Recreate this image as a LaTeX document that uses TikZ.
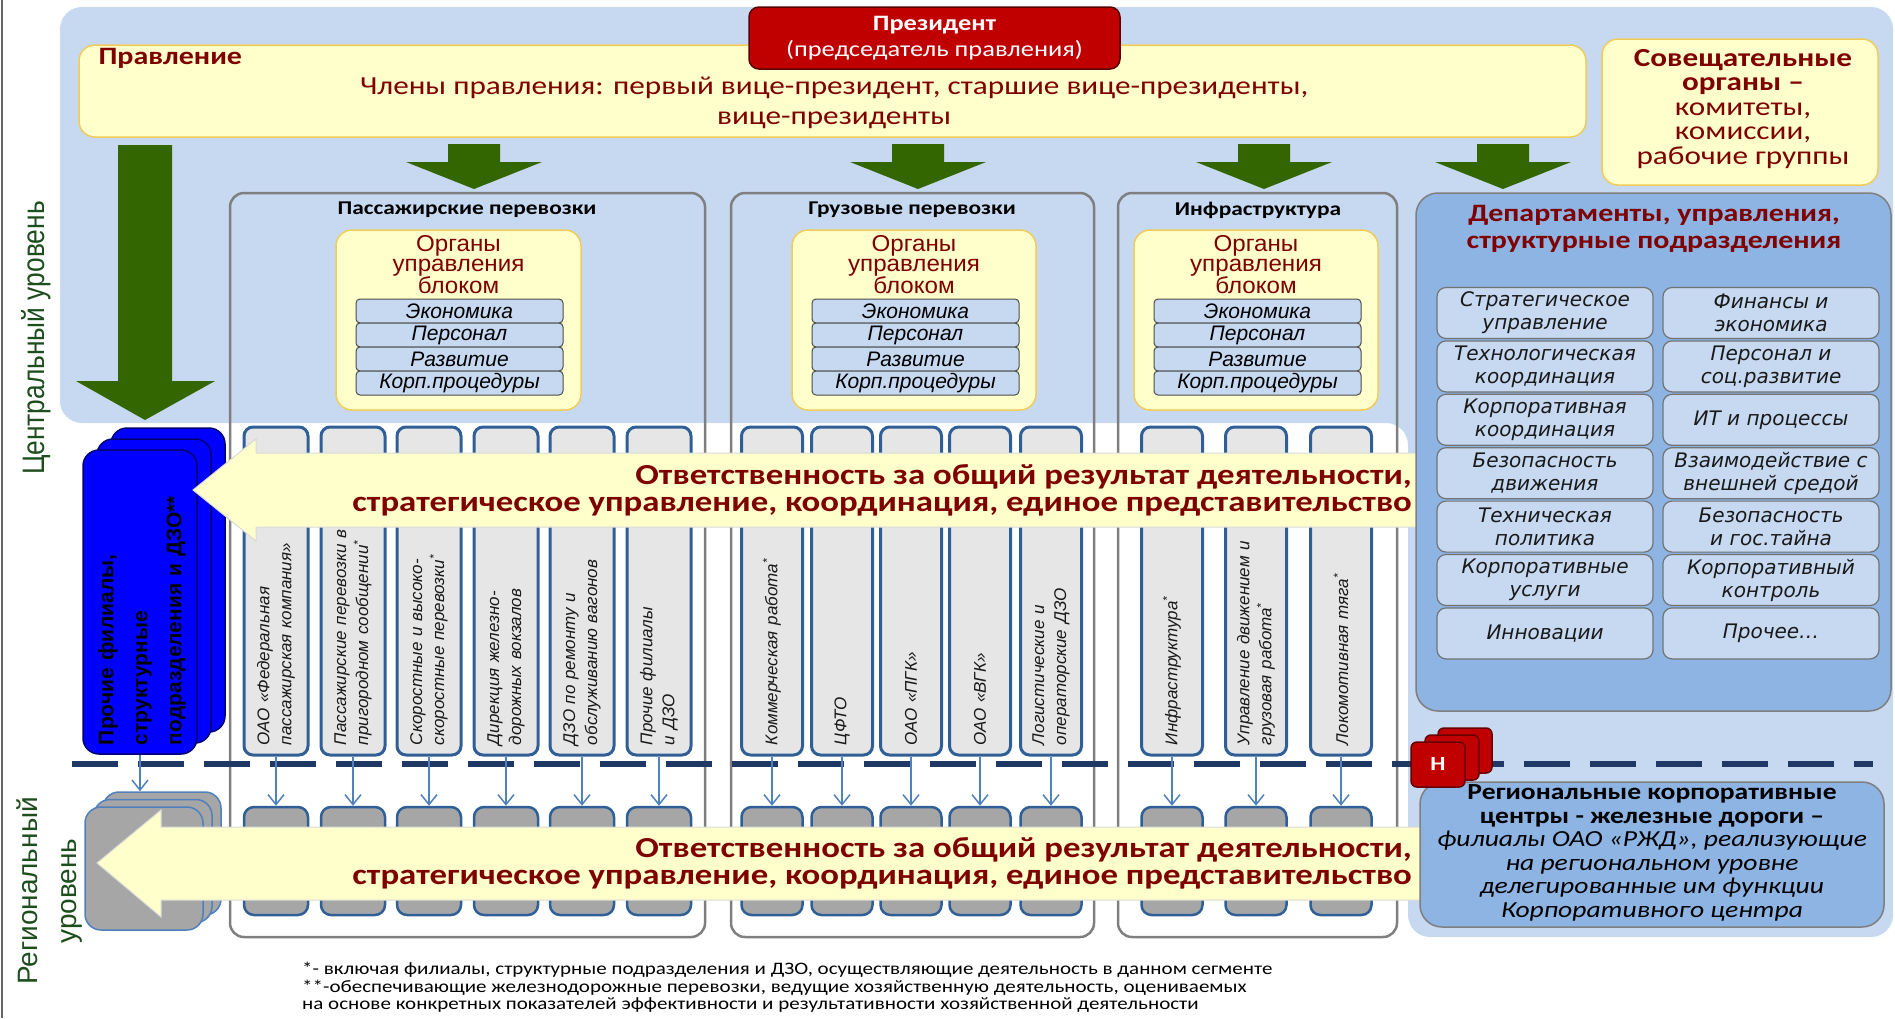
\documentclass[tikz,border=0pt]{standalone}
\usepackage{fontspec}
\setmainfont{Carlito}[FakeStretch=1.2]
\newfontfamily\arialfont{Liberation Sans}
\newfontfamily\organfont{Liberation Sans}[FakeStretch=1.05]
\newfontfamily\levelfont{Liberation Sans}[FakeStretch=0.85]
\newfontfamily\cellfont{DejaVu Sans}
\usetikzlibrary{arrows.meta}

\definecolor{bgblue}{HTML}{C6D9F0}
\definecolor{paleyellow}{HTML}{FFFFCC}
\definecolor{goldline}{HTML}{F2CC5A}
\definecolor{presred}{HTML}{C00000}
\definecolor{darkred}{HTML}{7F0000}
\definecolor{arrowgreen}{HTML}{336600}
\definecolor{framegray}{HTML}{7F7F7F}
\definecolor{colfill}{HTML}{E6E6E6}
\definecolor{colline}{HTML}{2F5F96}
\definecolor{regfill}{HTML}{A6A6A6}
\definecolor{deptblue}{HTML}{8DB4E2}
\definecolor{cellblue}{HTML}{C6D9F1}
\definecolor{navy}{HTML}{1F3864}
\definecolor{linkblue}{HTML}{4F81BD}
\definecolor{levelgreen}{HTML}{1E4D1E}

\begin{document}
\begin{tikzpicture}[x=1pt,y=-1pt,
  frame/.style={draw=framegray, line width=2.5pt, rounded corners=14pt, inner sep=0pt},
  yellowbox/.style={draw=goldline, fill=paleyellow, line width=1.5pt, rounded corners=16pt, inner sep=0pt},
  organs/.style={align=center, text=darkred, inner sep=0pt, font=\organfont\fontsize{23}{19.5}\selectfont},
  subbox/.style={draw=black!70, fill=cellblue, line width=1pt, rounded corners=4pt, minimum width=207pt, minimum height=24pt, inner sep=0pt, font=\arialfont\itshape\fontsize{21}{22}\selectfont},
  blocktitle/.style={inner sep=1pt, font=\bfseries\fontsize{19.5}{20}\selectfont},
  colbox/.style={draw=colline, fill=colfill, line width=3pt, rounded corners=9pt, minimum height=328pt, inner sep=0pt},
  coltext/.style={rotate=90, text width=308pt, align=left, inner sep=0pt, text=black!90, font=\arialfont\itshape\fontsize{17}{22}\selectfont},
  regbox/.style={draw=colline, fill=regfill, line width=2.5pt, rounded corners=10pt, minimum height=108pt, inner sep=0pt},
  link/.style={draw=linkblue, line width=1.5pt, -{Straight Barb[length=10pt,width=16pt]}},
  bluestack/.style={draw=blue!45!black, fill=blue, line width=1.5pt, rounded corners=16pt, minimum width=114pt, minimum height=304pt},
  graystack/.style={draw=linkblue, fill=regfill, line width=1.5pt, rounded corners=16pt, minimum width=118pt, minimum height=123pt},
  redstack/.style={draw=red!40!black, fill=presred, line width=1.5pt, rounded corners=6pt, minimum width=54pt, minimum height=45pt},
  cell/.style={draw=black!55, fill=cellblue, line width=1.2pt, rounded corners=9pt, minimum width=216pt, minimum height=51pt, inner sep=0pt, align=center, text=black!90, font=\cellfont\itshape\fontsize{20}{23}\selectfont},
  resparrow/.style={fill=paleyellow, draw=black!15, line width=1pt},
  resptext/.style={anchor=east, align=right, text=darkred, inner sep=0pt, font=\bfseries\fontsize{29}{27}\selectfont}]

\useasboundingbox (0,0) rectangle (1895,1018);
\fill[bgblue, rounded corners=22pt] (60,7) -- (1893,7) -- (1893,937) -- (1408,937) -- (1408,423) -- (60,423) -- cycle;
\draw[black!60, line width=1.5pt] (2,0) -- (2,1018);

\node[frame, minimum width=475pt, minimum height=744pt] (passframe) at (467.5,565) {};
\node[frame, minimum width=363pt, minimum height=744pt] (cargoframe) at (912.5,565) {};
\node[frame, minimum width=279pt, minimum height=744pt] (infraframe) at (1257.5,565) {};

\fill[arrowgreen] (118,145) -- (172,145) -- (172,381) -- (215,381) -- (145,420) -- (76,381) -- (118,381) -- cycle;
\fill[arrowgreen, shift={(474,0)}] (-26,144) -- (26,144) -- (26,162) -- (68,162) -- (0,189) -- (-68,162) -- (-26,162) -- cycle;
\fill[arrowgreen, shift={(918,0)}] (-26,144) -- (26,144) -- (26,162) -- (68,162) -- (0,189) -- (-68,162) -- (-26,162) -- cycle;
\fill[arrowgreen, shift={(1264,0)}] (-26,144) -- (26,144) -- (26,162) -- (68,162) -- (0,189) -- (-68,162) -- (-26,162) -- cycle;
\fill[arrowgreen, shift={(1503,0)}] (-26,144) -- (26,144) -- (26,162) -- (68,162) -- (0,189) -- (-68,162) -- (-26,162) -- cycle;

\node[yellowbox, minimum width=1507pt, minimum height=92pt] (board) at (832.5,91) {};
\node[anchor=west, text=darkred, font=\bfseries\fontsize{25}{26}\selectfont] (boardname) at (95,58) {Правление};
\node[align=center, text=darkred, font=\fontsize{26}{30}\selectfont] (members) at (834,103) {Члены правления: первый вице-президент, старшие вице-президенты,\\вице-президенты};
\node[draw=red!35!black, fill=presred, line width=1.5pt, rounded corners=10pt, minimum width=371pt, minimum height=62pt, align=center, text=white, font=\fontsize{22}{26}\selectfont] (president) at (934.5,38) {\textbf{Президент}\\(председатель правления)};
\node[yellowbox, minimum width=276pt, minimum height=146pt] (advisory) at (1740,112) {};
\node[align=center, text=darkred, font=\fontsize{26}{24.5}\selectfont] (advisoryt) at (1743,109) {\textbf{Совещательные}\\\textbf{органы –}\\комитеты,\\комиссии,\\рабочие группы};

\node[blocktitle] (passtitle) at (467,210) {Пассажирские перевозки};
\node[blocktitle] (cargotitle) at (912,210) {Грузовые перевозки};
\node[blocktitle] (infratitle) at (1258,210) {Инфраструктура};

\node[yellowbox, minimum width=245pt, minimum height=180pt] (passorg) at (458.5,320) {};
\node[organs] (passorgt) at (458.5,265) {Органы\\управления\\блоком};
\node[subbox] (pass1) at (459.5,311) {Экономика};
\node[subbox] (pass2) at (459.5,335) {Персонал};
\node[subbox] (pass3) at (459.5,359) {Развитие};
\node[subbox] (pass4) at (459.5,383) {Корп.процедуры};

\node[yellowbox, minimum width=244pt, minimum height=180pt] (cargoorg) at (914,320) {};
\node[organs] (cargoorgt) at (914,265) {Органы\\управления\\блоком};
\node[subbox] (cargo1) at (915.5,311) {Экономика};
\node[subbox] (cargo2) at (915.5,335) {Персонал};
\node[subbox] (cargo3) at (915.5,359) {Развитие};
\node[subbox] (cargo4) at (915.5,383) {Корп.процедуры};

\node[yellowbox, minimum width=244pt, minimum height=180pt] (infraorg) at (1256,320) {};
\node[organs] (infraorgt) at (1256,265) {Органы\\управления\\блоком};
\node[subbox] (infra1) at (1257.5,311) {Экономика};
\node[subbox] (infra2) at (1257.5,335) {Персонал};
\node[subbox] (infra3) at (1257.5,359) {Развитие};
\node[subbox] (infra4) at (1257.5,383) {Корп.процедуры};

\node[colbox, minimum width=64pt] (pas1) at (276,591) {};
\node[coltext] (pas1t) at (pas1) {ОАО «Федеральная\\пассажирская компания»};
\node[colbox, minimum width=64pt] (pas2) at (353,591) {};
\node[coltext] (pas2t) at (pas2) {Пассажирские перевозки в\\пригородном сообщении\textsuperscript{*}};
\node[colbox, minimum width=64pt] (pas3) at (429,591) {};
\node[coltext] (pas3t) at (pas3) {Скоростные и высоко-\\скоростные перевозки\textsuperscript{*}};
\node[colbox, minimum width=64pt] (pas4) at (506,591) {};
\node[coltext] (pas4t) at (pas4) {Дирекция железно-\\дорожных вокзалов};
\node[colbox, minimum width=64pt] (pas5) at (582,591) {};
\node[coltext] (pas5t) at (pas5) {ДЗО по ремонту и\\обслуживанию вагонов};
\node[colbox, minimum width=64pt] (pas6) at (659,591) {};
\node[coltext] (pas6t) at (pas6) {Прочие филиалы\\и ДЗО};

\node[colbox, minimum width=61pt] (car1) at (772,591) {};
\node[coltext] (car1t) at (car1) {Коммерческая работа\textsuperscript{*}};
\node[colbox, minimum width=61pt] (car2) at (842,591) {};
\node[coltext] (car2t) at (car2) {ЦФТО};
\node[colbox, minimum width=61pt] (car3) at (911,591) {};
\node[coltext] (car3t) at (car3) {ОАО «ПГК»};
\node[colbox, minimum width=61pt] (car4) at (980,591) {};
\node[coltext] (car4t) at (car4) {ОАО «ВГК»};
\node[colbox, minimum width=61pt] (car5) at (1051,591) {};
\node[coltext] (car5t) at (car5) {Логистические и\\операторские ДЗО};

\node[colbox, minimum width=61pt] (inf1) at (1172,591) {};
\node[coltext] (inf1t) at (inf1) {Инфраструктура\textsuperscript{*}};
\node[colbox, minimum width=61pt] (inf2) at (1256,591) {};
\node[coltext] (inf2t) at (inf2) {Управление движением и\\грузовая работа\textsuperscript{*}};
\node[colbox, minimum width=61pt] (inf3) at (1341,591) {};
\node[coltext] (inf3t) at (inf3) {Локомотивная тяга\textsuperscript{*}};

\node[bluestack] (bsback) at (168,580) {};
\node[bluestack] (bsmid) at (154,591) {};
\node[bluestack] (bsfront) at (140,602) {};
\node[rotate=90, text width=290pt, align=left, inner sep=0pt, font=\arialfont\bfseries\fontsize{21}{34}\selectfont] (bsfrontt) at (142,600) {Прочие филиалы,\\структурные\\подразделения и ДЗО**};

\draw[resparrow] (1426,453) -- (256,453) -- (256,439) -- (193,490) -- (256,541) -- (256,527) -- (1426,527) -- cycle;
\node[resptext] (resptop) at (1412,490) {Ответственность за общий результат деятельности,\\стратегическое управление, координация, единое представительство};

\draw[navy, line width=6pt, dash pattern=on 46pt off 20pt] (72,764) -- (1873,764);

\node[regbox, minimum width=64pt] (pas1r) at (276,861) {};
\node[regbox, minimum width=64pt] (pas2r) at (353,861) {};
\node[regbox, minimum width=64pt] (pas3r) at (429,861) {};
\node[regbox, minimum width=64pt] (pas4r) at (506,861) {};
\node[regbox, minimum width=64pt] (pas5r) at (582,861) {};
\node[regbox, minimum width=64pt] (pas6r) at (659,861) {};
\node[regbox, minimum width=61pt] (car1r) at (772,861) {};
\node[regbox, minimum width=61pt] (car2r) at (842,861) {};
\node[regbox, minimum width=61pt] (car3r) at (911,861) {};
\node[regbox, minimum width=61pt] (car4r) at (980,861) {};
\node[regbox, minimum width=61pt] (car5r) at (1051,861) {};
\node[regbox, minimum width=61pt] (inf1r) at (1172,861) {};
\node[regbox, minimum width=61pt] (inf2r) at (1256,861) {};
\node[regbox, minimum width=61pt] (inf3r) at (1341,861) {};

\draw[link] (pas1) -- (pas1r);
\draw[link] (pas2) -- (pas2r);
\draw[link] (pas3) -- (pas3r);
\draw[link] (pas4) -- (pas4r);
\draw[link] (pas5) -- (pas5r);
\draw[link] (pas6) -- (pas6r);
\draw[link] (car1) -- (car1r);
\draw[link] (car2) -- (car2r);
\draw[link] (car3) -- (car3r);
\draw[link] (car4) -- (car4r);
\draw[link] (car5) -- (car5r);
\draw[link] (inf1) -- (inf1r);
\draw[link] (inf2) -- (inf2r);
\draw[link] (inf3) -- (inf3r);

\node[graystack] (gsback) at (162,853.5) {};
\node[graystack] (gsmid) at (153,861) {};
\node[graystack] (gsfront) at (144,868.5) {};
\draw[link] (bsfront) -- (bsfront |- gsback.north);

\draw[resparrow] (1426,827) -- (161,827) -- (161,810) -- (97,863) -- (161,917) -- (161,900) -- (1426,900) -- cycle;
\node[resptext] (respbottom) at (1412,863) {Ответственность за общий результат деятельности,\\стратегическое управление, координация, единое представительство};

\node[draw=framegray, fill=deptblue, line width=1.5pt, rounded corners=22pt, minimum width=475pt, minimum height=518pt] (dept) at (1653.5,452) {};
\node[align=center, text=darkred, font=\bfseries\fontsize{25}{27}\selectfont] (deptt) at (1654,229) {Департаменты, управления,\\структурные подразделения};
\node[cell] (d11) at (1545,313) {Стратегическое\\управление};
\node[cell] (d12) at (1771,313) {Финансы и\\экономика};
\node[cell] (d21) at (1545,366.4) {Технологическая\\координация};
\node[cell] (d22) at (1771,366.4) {Персонал и\\соц.развитие};
\node[cell] (d31) at (1545,419.8) {Корпоративная\\координация};
\node[cell] (d32) at (1771,419.8) {ИТ и процессы};
\node[cell] (d41) at (1545,473.2) {Безопасность\\движения};
\node[cell] (d42) at (1771,473.2) {Взаимодействие с\\внешней средой};
\node[cell] (d51) at (1545,526.6) {Техническая\\политика};
\node[cell] (d52) at (1771,526.6) {Безопасность\\и гос.тайна};
\node[cell] (d61) at (1545,580) {Корпоративные\\услуги};
\node[cell] (d62) at (1771,580) {Корпоративный\\контроль};
\node[cell] (d71) at (1545,633.4) {Инновации};
\node[cell] (d72) at (1771,633.4) {Прочее…};

\node[draw=framegray, fill=deptblue, line width=1.5pt, rounded corners=22pt, minimum width=464pt, minimum height=145pt] (regional) at (1652,854.5) {};
\node[align=center, font=\fontsize{23}{23.5}\selectfont] (regionalt) at (1652,853) {\textbf{Региональные корпоративные}\\\textbf{центры - железные дороги –}\\\textit{филиалы ОАО «РЖД», реализующие}\\\textit{на региональном уровне}\\\textit{делегированные им функции}\\\textit{Корпоративного центра}};

\node[redstack] (hback) at (1465,750.5) {};
\node[redstack] (hmid) at (1452,757.5) {};
\node[redstack] (hfront) at (1438,764.5) {};
\node[text=white, font=\bfseries\fontsize{20}{22}\selectfont] (hlabel) at (hfront) {Н};

\node[rotate=90, text=levelgreen, font=\levelfont\fontsize{31}{32}\selectfont] (central) at (36,338) {Центральный уровень};
\node[rotate=90, align=center, text=levelgreen, font=\arialfont\fontsize{28}{39}\selectfont] (regionallevel) at (50,891) {Региональный\\уровень};

\node[anchor=north west, align=left, inner sep=0pt, font=\fontsize{17.5}{17.5}\selectfont] (notes) at (302,962) {*- включая филиалы, структурные подразделения и ДЗО, осуществляющие деятельность в данном сегменте\\**-обеспечивающие железнодорожные перевозки, ведущие хозяйственную деятельность, оцениваемых\\на основе конкретных показателей эффективности и результативности хозяйственной деятельности};
\end{tikzpicture}
\end{document}
